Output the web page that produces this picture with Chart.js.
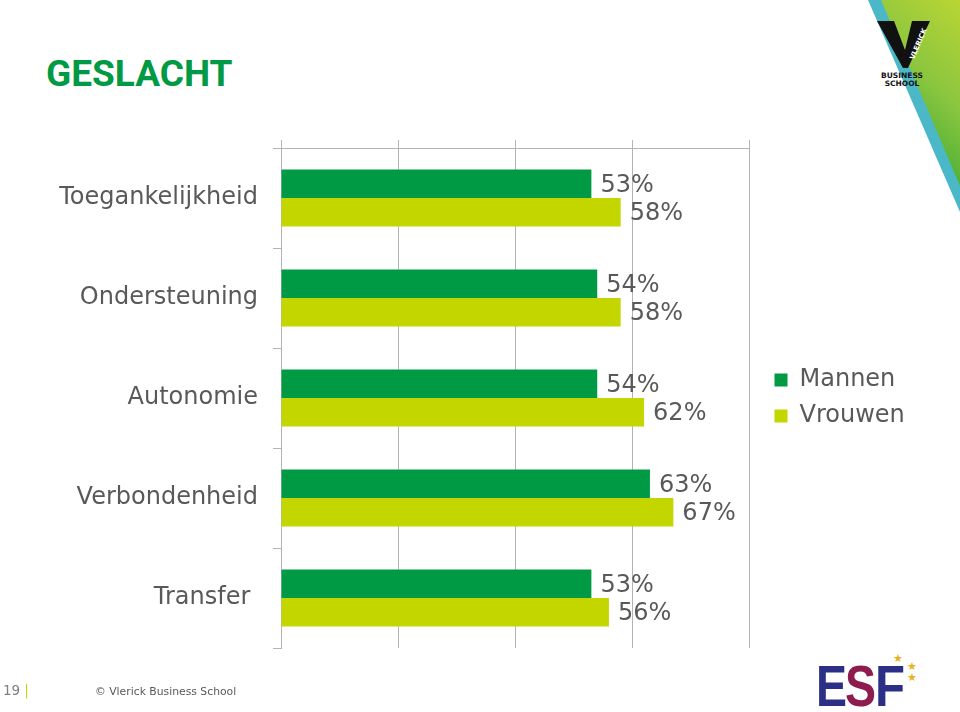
<!DOCTYPE html>
<html>
<head>
<meta charset="utf-8">
<script src="https://cdn.jsdelivr.net/npm/chart.js@4.4.1/dist/chart.umd.min.js"></script>
<style>
  html, body { margin: 0; padding: 0; background: #ffffff; overflow: hidden; }
  #wrap { position: relative; width: 960px; height: 712px; }
  #decor { position: absolute; left: 0; top: 0; }
  #c { position: absolute; left: 0; top: 0; }
  #title { position: absolute; left: 46px; top: 55px; font-family: Roboto, "Liberation Sans", sans-serif;
           font-weight: 700; font-size: 37px; line-height: 37px; color: #009A44; letter-spacing: 0px; }
  #pagenum { position: absolute; left: 3px; top: 682px; font-family: "DejaVu Sans", Verdana, sans-serif;
             font-size: 13.5px; line-height: 16px; color: #7f7f7f; }
  #pagenum span { color: #C4D600; margin-left: 4px; }
  #copy { position: absolute; left: 95px; top: 684px; font-family: "DejaVu Sans", Verdana, sans-serif;
          font-size: 10.8px; line-height: 15px; color: #595959; }
</style>
</head>
<body>
<div id="wrap">
  <svg id="decor" width="960" height="712" viewBox="0 0 960 712">
    <defs>
      <linearGradient id="g1" x1="1" y1="0" x2="0.6" y2="1">
        <stop offset="0" stop-color="#b9d534"/>
        <stop offset="0.5" stop-color="#8cc63f"/>
        <stop offset="1" stop-color="#3daa35"/>
      </linearGradient>
    </defs>
    <polygon points="868,0 960,0 960,212" fill="#4bb8c8"/>
    <polygon points="881,0 960,0 960,186" fill="url(#g1)"/>
    <polygon points="877,21 894,21 905,50 912,21 930,21 908,68 903,68" fill="#111111"/>
    <text x="0" y="0" transform="translate(914,60) rotate(-67)" font-family="DejaVu Sans" font-weight="700"
          font-size="7" fill="#ffffff">VLERICK</text>
    <text x="902" y="78" text-anchor="middle" font-family="DejaVu Sans" font-weight="700" font-size="7.5" fill="#111">BUSINESS</text>
    <text x="902" y="85.5" text-anchor="middle" font-family="DejaVu Sans" font-weight="700" font-size="7.5" fill="#111">SCHOOL</text>
    <!-- ESF logo -->
    <text x="816" y="706" font-family="Liberation Sans" font-weight="700" font-size="58" textLength="31"
          lengthAdjust="spacingAndGlyphs" fill="#2b2f86">E</text>
    <text x="845" y="706" font-family="Liberation Sans" font-weight="700" font-size="58" textLength="31"
          lengthAdjust="spacingAndGlyphs" fill="#8d1d4e">S</text>
    <text x="875" y="706" font-family="Liberation Sans" font-weight="700" font-size="58" textLength="30"
          lengthAdjust="spacingAndGlyphs" fill="#2b2f86">F</text>
    <text x="898" y="662" text-anchor="middle" font-size="11" fill="#e6b422">★</text>
    <text x="912" y="670" text-anchor="middle" font-size="11" fill="#e6b422">★</text>
    <text x="912" y="681" text-anchor="middle" font-size="11" fill="#e6b422">★</text>
  </svg>
  <div id="title">GESLACHT</div>
  <canvas id="c" width="960" height="712"></canvas>
  <div id="pagenum">19<span>|</span></div>
  <div id="copy">© Vlerick Business School</div>
</div>
<script>
// ---- data ----
const categories = ["Toegankelijkheid", "Ondersteuning", "Autonomie", "Verbondenheid", "Transfer "];
const seriesNames = ["Mannen", "Vrouwen"];
const mannen = [53, 54, 54, 63, 53];
const vrouwen = [58, 58, 62, 67, 56];
const axisMin = 0;
const axisMax = 80;
const axisStep = 20;

const GREEN = "#009A44";
const LIME = "#C4D600";
const TEXT = "#595959";
const GRID = "#b4b4b4";
const FONT = '"DejaVu Sans", Verdana, sans-serif';

const valueLabels = {
  id: "valueLabels",
  afterDatasetsDraw(chart) {
    const ctx = chart.ctx;
    ctx.save();
    ctx.font = "24px " + FONT;
    ctx.fillStyle = TEXT;
    ctx.textAlign = "left";
    ctx.textBaseline = "middle";
    chart.data.datasets.forEach((ds, i) => {
      const meta = chart.getDatasetMeta(i);
      meta.data.forEach((bar, j) => {
        ctx.fillText(ds.data[j] + "%", bar.x + 9, bar.y + 2);
      });
    });
    ctx.restore();
  }
};

new Chart(document.getElementById("c"), {
  type: "bar",
  data: {
    labels: categories,
    datasets: [
      { label: seriesNames[0], data: mannen, backgroundColor: GREEN, borderWidth: 0 },
      { label: seriesNames[1], data: vrouwen, backgroundColor: LIME, borderWidth: 0 }
    ]
  },
  options: {
    indexAxis: "y",
    responsive: false,
    devicePixelRatio: 1,
    animation: false,
    layout: { padding: { left: 20, right: 49, top: 140, bottom: 64 } },
    datasets: { bar: { categoryPercentage: 0.57, barPercentage: 1.0 } },
    scales: {
      x: {
        position: "top",
        min: axisMin,
        max: axisMax,
        ticks: { stepSize: axisStep, display: false },
        grid: { color: GRID, lineWidth: 1, drawTicks: true, tickLength: 8 },
        border: { color: GRID, width: 1 }
      },
      y: {
        position: "left",
        ticks: { font: { family: FONT, size: 24 }, color: TEXT, padding: 15 },
        grid: { offset: true, drawOnChartArea: false, drawTicks: true, tickLength: 8, color: GRID },
        border: { color: GRID, width: 1 },
        afterFit(scale) { scale.width = 261; }
      },
      yPad: {
        type: "linear",
        axis: "y",
        position: "right",
        display: true,
        ticks: { display: false },
        grid: { display: false },
        border: { display: false },
        afterFit(scale) { scale.width = 13; }
      }
    },
    plugins: {
      legend: {
        position: "right",
        align: "center",
        fullSize: false,
        labels: {
          boxWidth: 13,
          boxHeight: 13,
          padding: 12,
          font: { family: FONT, size: 24 },
          color: TEXT
        }
      },
      tooltip: { enabled: false },
      title: { display: false }
    }
  },
  plugins: [valueLabels]
});
</script>
</body>
</html>
